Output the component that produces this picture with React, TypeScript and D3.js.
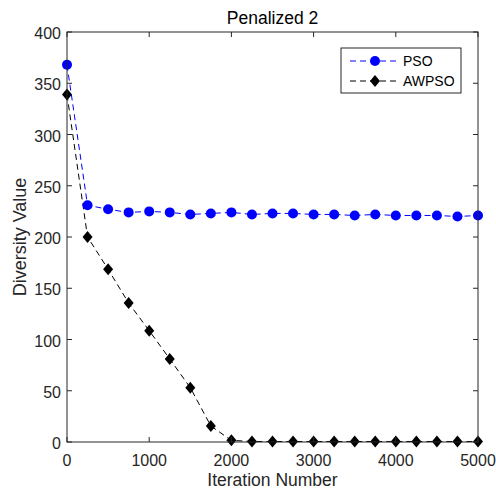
import React from 'react';
import { scaleLinear, line } from 'd3';

const iterations = [0, 250, 500, 750, 1000, 1250, 1500, 1750, 2000, 2250, 2500, 2750, 3000, 3250, 3500, 3750, 4000, 4250, 4500, 4750, 5000];
const psoValues = [368, 231, 227, 224, 225, 224, 222, 223, 224, 222, 223, 223, 222, 222, 221, 222, 221, 221, 221, 220, 221];
const awpsoValues = [339, 200, 168.5, 135.6, 108.6, 81, 53, 15.6, 1.6, 0.5, 0.5, 0.5, 0.5, 0.5, 0.5, 0.5, 0.5, 0.5, 0.5, 0.5, 0.5];
const xTicks = [0, 1000, 2000, 3000, 4000, 5000];
const yTicks = [0, 50, 100, 150, 200, 250, 300, 350, 400];

const width = 496;
const height = 490;
const margin = { left: 67, right: 18, top: 32, bottom: 48 };
const axisColor = '#262626';
const font = 'Liberation Sans, Arial, Helvetica, sans-serif';

const App = () => {
  const xScale = scaleLinear().domain([0, 5000]).range([margin.left, width - margin.right]);
  const yScale = scaleLinear().domain([0, 400]).range([height - margin.bottom, margin.top]);

  const path = line<number>()
    .x((d, i) => xScale(iterations[i]))
    .y(d => yScale(d));

  const x0 = xScale(0), x1 = xScale(5000);
  const y0 = yScale(0), y1 = yScale(400);

  const diamond = (cx: number, cy: number, s = 6) =>
    `M${cx},${cy - s}L${cx + 5},${cy}L${cx},${cy + s}L${cx - 5},${cy}Z`;

  return (
    <svg width={width} height={height} style={{ position: 'absolute', left: 0, top: 0 }}>
      <rect x={0} y={0} width={width} height={height} fill="#fff" />
      <rect x={x0} y={y1} width={x1 - x0} height={y0 - y1} fill="#fff" />

      <path d={path(psoValues) || ''} fill="none" stroke="#0000ff" strokeWidth={1} strokeDasharray="6,4" />
      <path d={path(awpsoValues) || ''} fill="none" stroke="#000" strokeWidth={1} strokeDasharray="6,4" />

      {psoValues.map((v, i) => (
        <circle key={'p' + i} cx={xScale(iterations[i])} cy={yScale(v)} r={5} fill="#0000ff" />
      ))}
      {awpsoValues.map((v, i) => (
        <path key={'a' + i} d={diamond(xScale(iterations[i]), yScale(v))} fill="#000" />
      ))}

      <rect x={x0} y={y1} width={x1 - x0} height={y0 - y1} fill="none" stroke={axisColor} strokeWidth={1} />

      {xTicks.map(t => (
        <g key={'x' + t}>
          <line x1={xScale(t)} x2={xScale(t)} y1={y0} y2={y0 - 5} stroke={axisColor} />
          <line x1={xScale(t)} x2={xScale(t)} y1={y1} y2={y1 + 5} stroke={axisColor} />
          <text x={xScale(t)} y={466} textAnchor="middle" fontFamily={font} fontSize={16} fill={axisColor}>{t}</text>
        </g>
      ))}
      {yTicks.map(t => (
        <g key={'y' + t}>
          <line x1={x0} x2={x0 + 5} y1={yScale(t)} y2={yScale(t)} stroke={axisColor} />
          <line x1={x1} x2={x1 - 5} y1={yScale(t)} y2={yScale(t)} stroke={axisColor} />
          <text x={x0 - 6} y={yScale(t) + 7} textAnchor="end" fontFamily={font} fontSize={16} fill={axisColor}>{t}</text>
        </g>
      ))}

      <text x={(x0 + x1) / 2} y={23.5} textAnchor="middle" fontFamily={font} fontSize={17.5} fill="#000">Penalized 2</text>
      <text x={(x0 + x1) / 2} y={486} textAnchor="middle" fontFamily={font} fontSize={17.5} fill={axisColor}>Iteration Number</text>
      <text transform={`translate(26,${(y0 + y1) / 2}) rotate(-90)`} textAnchor="middle" fontFamily={font} fontSize={18} fill={axisColor}>Diversity Value</text>

      <g>
        <rect x={341} y={48} width={120} height={45} fill="#fff" stroke={axisColor} strokeWidth={1} />
        <line x1={350} x2={398} y1={61} y2={61} stroke="#0000ff" strokeDasharray="6,4" />
        <circle cx={375} cy={61} r={5} fill="#0000ff" />
        <text x={403} y={66} fontFamily={font} fontSize={14} fill="#000">PSO</text>
        <line x1={350} x2={398} y1={81} y2={81} stroke="#000" strokeDasharray="6,4" />
        <path d={diamond(375, 81)} fill="#000" />
        <text x={403} y={86} fontFamily={font} fontSize={14} fill="#000">AWPSO</text>
      </g>
    </svg>
  );
};

export default App;
